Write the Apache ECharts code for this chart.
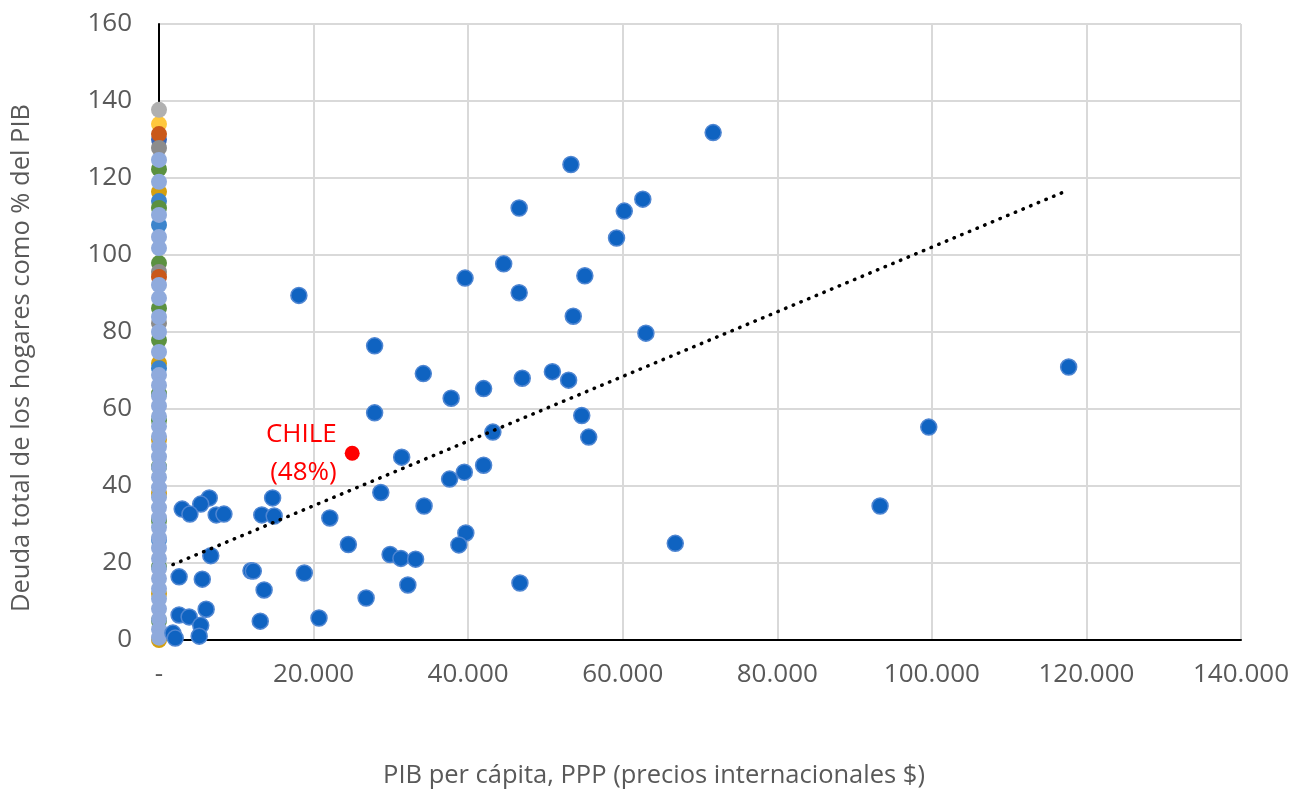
<!DOCTYPE html>
<html>
<head>
<meta charset="utf-8">
<script src="https://cdn.jsdelivr.net/npm/echarts@6/dist/echarts.min.js"></script>
<style>
html,body{margin:0;padding:0;background:#fff;}
#chart{width:1293px;height:791px;}
</style>
</head>
<body>
<div id="chart"></div>
<script>
// ---- Data ----
const xTickLabels = ['-', '20.000', '40.000', '60.000', '80.000', '100.000', '120.000', '140.000'];
const yTickLabels = ['0', '20', '40', '60', '80', '100', '120', '140', '160'];

// Countries (GDP per capita PPP, household debt % GDP)
const countryX = [71700, 53300, 46600, 60200, 62600, 59200, 44600, 39600, 55100, 46600, 18100, 53600, 63000, 27900, 34200, 50900, 47000, 53000, 42000, 37800, 27900, 54700, 117700, 99600, 55600, 43200, 31400, 42000, 39500, 37600, 28700, 34300, 93300, 14700, 6500, 5400, 3000, 4000, 7400, 8400, 13300, 14900, 22100, 39700, 24500, 38800, 66800, 29900, 31300, 33200, 6700, 11900, 12200, 18800, 2600, 5600, 46700, 32200, 13600, 26800, 6100, 2600, 3900, 20700, 13100, 5400, 1800, 2100, 5200];
const countryY = [131.8, 123.5, 112.2, 111.4, 114.5, 104.4, 97.7, 94.0, 94.6, 90.2, 89.5, 84.1, 79.7, 76.4, 69.2, 69.7, 68.0, 67.5, 65.3, 62.8, 59.0, 58.3, 70.9, 55.3, 52.7, 54.0, 47.5, 45.4, 43.6, 41.8, 38.3, 34.8, 34.8, 36.9, 36.9, 35.3, 34.0, 32.7, 32.5, 32.7, 32.5, 32.2, 31.7, 27.8, 24.8, 24.7, 25.1, 22.2, 21.2, 21.0, 21.9, 18.0, 17.9, 17.4, 16.4, 15.8, 14.8, 14.3, 13.0, 10.9, 8.0, 6.5, 6.0, 5.7, 4.9, 3.8, 1.8, 0.5, 1.0];

// Chile
const chileX = [25000];
const chileY = [48.5];
const chileLabel = 'CHILE\n(48%)';

// Linear trend line (end points)
const trendX = [1800, 117700];
const trendY = [19.6, 116.9];

// Observations without GDP data (plotted at x = 0), with their colours
const zeroY = [130.0, 134.0, 131.4, 137.7, 127.8, 122.3, 116.4, 114.0, 112.2, 107.8, 97.9, 95.6, 94.3, 86.2, 82.3, 77.9, 71.9, 70.6, 64.0, 57.0, 52.0, 45.0, 38.0, 31.0, 26.0, 19.0, 12.0, 5.0, 0.0,
  124.7, 119.0, 110.4, 104.7, 101.8, 92.2, 88.8, 83.9, 80.0, 74.8, 68.8, 66.2, 63.4, 60.8, 58.1, 55.5, 52.9, 50.2, 47.6, 44.9, 42.3, 39.6, 37.1, 34.4, 31.8, 29.2, 26.5, 23.9, 21.2, 18.6, 16.0, 13.3, 10.7, 8.1, 5.4, 2.8, 0.6];
const zeroC = ['#3a66b8', '#ffc83d', '#c9581a', '#b0b0b0', '#8c8c8c', '#5b9140', '#d4a010', '#3c84cc', '#5b9140', '#3c84cc', '#5b9140', '#8c8c8c', '#c9581a', '#5b9140', '#8c8c8c', '#5b9140', '#d4a010', '#3c84cc', '#5b9140', '#5b9140', '#d4a010', '#5b9140', '#d4a010', '#5b9140', '#3c84cc', '#5b9140', '#d4a010', '#5b9140', '#d4a010',
  '#8faadc', '#8faadc', '#8faadc', '#8faadc', '#8faadc', '#8faadc', '#8faadc', '#8faadc', '#8faadc', '#8faadc', '#8faadc', '#8faadc', '#8faadc', '#8faadc', '#8faadc', '#8faadc', '#8faadc', '#8faadc', '#8faadc', '#8faadc', '#8faadc', '#8faadc', '#8faadc', '#8faadc', '#8faadc', '#8faadc', '#8faadc', '#8faadc', '#8faadc', '#8faadc', '#8faadc', '#8faadc', '#8faadc', '#8faadc', '#8faadc', '#8faadc', '#8faadc'];

const xTitle = 'PIB per cápita, PPP (precios internacionales $)';
const yTitle = 'Deuda total de los hogares como % del PIB';

// ---- Chart ----
const FONT = 'Open Sans';
const TXT = '#595959';
const chart = echarts.init(document.getElementById('chart'), null, {renderer: 'canvas'});

const zeroData = zeroY.map((y, i) => ({value: [0, y], itemStyle: {color: zeroC[i]}}));
const countryData = countryX.map((x, i) => [x, countryY[i]]);
const chileData = chileX.map((x, i) => [x, chileY[i]]);
const trendData = trendX.map((x, i) => [x, trendY[i]]);

chart.setOption({
  animation: false,
  backgroundColor: '#ffffff',
  textStyle: {fontFamily: FONT},
  grid: {left: 159, right: 52, top: 24, bottom: 151, containLabel: false},
  xAxis: {
    type: 'value', min: 0, max: 140000, interval: 20000,
    axisLine: {show: true, onZero: false, lineStyle: {color: '#000000', width: 2}},
    axisTick: {show: false},
    splitLine: {show: true, lineStyle: {color: '#d9d9d9', width: 2}},
    axisLabel: {
      color: TXT, fontFamily: FONT, fontSize: 26, margin: 22,
      formatter: v => xTickLabels[Math.round(v / 20000)]
    }
  },
  yAxis: {
    type: 'value', min: 0, max: 160, interval: 20,
    axisLine: {show: true, onZero: false, lineStyle: {color: '#000000', width: 2}},
    axisTick: {show: false},
    splitLine: {show: true, lineStyle: {color: '#d9d9d9', width: 2}},
    axisLabel: {
      color: TXT, fontFamily: FONT, fontSize: 26, margin: 27,
      formatter: v => yTickLabels[Math.round(v / 20)]
    }
  },
  graphic: [
    {type: 'text', x: 654, y: 776, style: {text: xTitle, fill: TXT, font: '25.5px "Open Sans"', textAlign: 'center', textVerticalAlign: 'middle'}},
    {type: 'text', x: 22, y: 358, rotation: Math.PI / 2, style: {text: yTitle, fill: TXT, font: '25.5px "Open Sans"', textAlign: 'center', textVerticalAlign: 'middle'}}
  ],
  series: [
    {
      name: 'sin dato', type: 'scatter', data: zeroData, symbolSize: 16, z: 2,
      itemStyle: {opacity: 1}
    },
    {
      name: 'Países', type: 'scatter', data: countryData, symbolSize: 16, z: 3,
      itemStyle: {color: '#0f63c1', borderColor: '#4f86d2', borderWidth: 1.5, opacity: 1}
    },
    {
      name: 'Chile', type: 'scatter', data: chileData, symbolSize: 15, z: 4,
      itemStyle: {color: '#ff0000', opacity: 1},
      label: {show: true, formatter: chileLabel, position: 'left', distance: 8, color: '#ff0000', fontFamily: FONT, fontSize: 26, lineHeight: 38, align: 'right'}
    },
    {
      name: 'Tendencia', type: 'line', data: trendData, symbol: 'none', z: 5,
      lineStyle: {color: '#000000', width: 3.5, type: [0.5, 7.8], cap: 'round'}
    }
  ]
});
</script>
</body>
</html>
